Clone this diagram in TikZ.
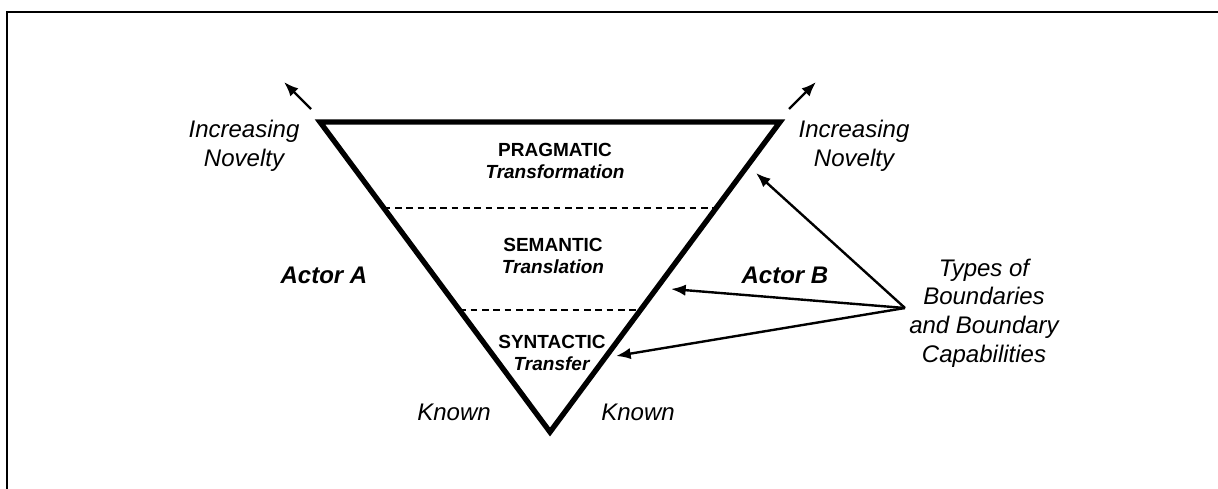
\documentclass[tikz,border=0pt]{standalone}
\usepackage{fontspec}
\setmainfont{Liberation Sans}
\usetikzlibrary{arrows.meta,calc}

\begin{document}
\begin{tikzpicture}[x=0.75pt,y=-0.75pt,
  novelty/.style={font=\fontsize{18}{21.5}\selectfont\itshape,align=center},
  layer/.style={font=\fontsize{14.25}{17}\selectfont\bfseries,align=center},
  actor/.style={font=\fontsize{18}{21.5}\selectfont\bfseries\itshape},
  arr/.style={line width=1.8pt,-{Latex[length=11pt,width=8.5pt]}}]

\useasboundingbox (0,0) rectangle (1218,489);
\draw[line width=2.2pt] (7,500) -- (7,12) -- (1230,12);

\coordinate (tl) at (320,122);
\coordinate (tr) at (780,122);
\coordinate (bt) at (550,432);
\draw[line width=4pt,line join=miter] (tl) -- (tr) -- (bt) -- cycle;

\coordinate (pl) at ($(tl)!0.277!(bt)$);
\coordinate (pr) at ($(tr)!0.277!(bt)$);
\coordinate (sl) at ($(tl)!0.606!(bt)$);
\coordinate (sr) at ($(tr)!0.606!(bt)$);
\begin{scope}[line width=1pt,dash pattern=on 5pt off 3.5pt]
\draw (pl) -- (pr);
\draw (sl) -- (sr);
\end{scope}

\node[layer] (prag) at (555,161) {PRAGMATIC\\\textit{Transformation}};
\node[layer] (sem)  at (553,256) {SEMANTIC\\\textit{Translation}};
\node[layer] (syn)  at (552,353) {SYNTACTIC\\\textit{Transfer}};

\node[actor] (actA) at (324,275) {Actor A};
\node[actor] (actB) at (785,275) {Actor B};

\node[novelty] (knA) at (454,412) {Known};
\node[novelty] (knB) at (638,412) {Known};
\node[novelty] (novA) at (244,146) {Increasing\\Novelty};
\node[novelty] (novB) at (854,146) {Increasing\\Novelty};
\node[novelty] (types) at (984,313) {Types of\\Boundaries\\and Boundary\\Capabilities};

\draw[arr] ($(tl)+(-9,-13)$) coordinate (la) -- ($(tl)+(-36,-40)$) coordinate (lb);
\draw[arr] ($(tr)+(9,-13)$) coordinate (ra) -- ($(tr)+(36,-40)$) coordinate (rb);

\coordinate (conv) at (905,308);
\coordinate (tipP) at (756,173);
\coordinate (tipS) at (671,289);
\coordinate (tipT) at (616,356);
\foreach \t in {tipP,tipS,tipT}{
\draw[arr] (conv) -- (\t);
}
\end{tikzpicture}
\end{document}
